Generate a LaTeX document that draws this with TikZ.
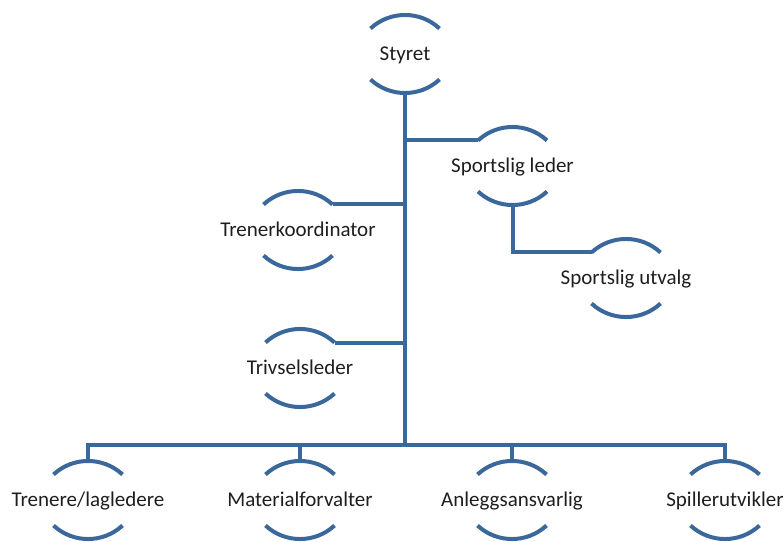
\documentclass[tikz,border=0pt]{standalone}
\usepackage{fontspec}
\setmainfont{Carlito}
\definecolor{orgblue}{RGB}{58,104,155}
\definecolor{orgtext}{RGB}{30,30,30}
\tikzset{
  ln/.style={draw=orgblue,line width=4pt},
  lbl/.style={font=\fontsize{21pt}{25pt}\selectfont,text=orgtext,inner sep=0pt,anchor=mid}
}
\newcommand\orgnode[4]{%
  \node[lbl] (#1) at (#2,{541-#3-4.5}) {#4};
  \coordinate (#1-top) at (#2,{541-#3+39});
  \coordinate (#1-bot) at (#2,{541-#3-39});
  \coordinate (#1-tl) at (#2-34.5,{541-#3+25.5});
  \coordinate (#1-tr) at (#2+34.5,{541-#3+25.5});
  \coordinate (#1-bl) at (#2-34.5,{541-#3-25.5});
  \draw[ln] (#1-tl) arc[start angle=132.8,end angle=47.2,radius=50.8];
  \draw[ln] (#1-bl) arc[start angle=227.2,end angle=312.8,radius=50.8];
}
\begin{document}
\begin{tikzpicture}[x=1pt,y=1pt]
\useasboundingbox (0,0) rectangle (783,541);
\orgnode{styret}{405}{54}{Styret}
\orgnode{sleder}{512.5}{166}{Sportslig leder}
\orgnode{sutvalg}{626}{278}{Sportslig utvalg}
\orgnode{tk}{298}{230}{Trenerkoordinator}
\orgnode{triv}{300}{368}{Trivselsleder}
\orgnode{trenere}{88}{500}{Trenere/lagledere}
\orgnode{materi}{300}{500}{Materialforvalter}
\orgnode{anlegg}{512}{500}{Anleggsansvarlig}
\orgnode{spiller}{725}{500}{Spillerutvikler}
\coordinate (bus) at (405,{541-445});
% trunk
\draw[ln] (styret-bot) -- (bus);
% side branches
\draw[ln] (sleder-tl) -- (sleder-tl -| styret-bot);
\draw[ln] (tk-tr) -- (tk-tr -| styret-bot);
\draw[ln] (triv-tr) -- (triv-tr -| styret-bot);
\draw[ln] (sleder-bot) |- (sutvalg-tl);
% bottom bus
\draw[ln] (trenere-top) |- (bus) -| (spiller-top);
\draw[ln] (materi-top) -- (materi-top |- bus);
\draw[ln] (anlegg-top) -- (anlegg-top |- bus);
\end{tikzpicture}
\end{document}
